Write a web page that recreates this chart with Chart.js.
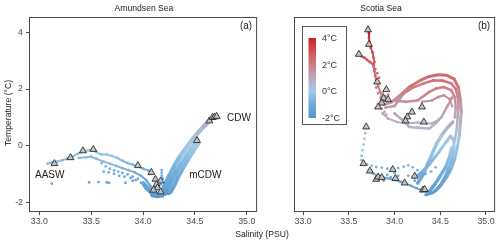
<!DOCTYPE html>
<html>
<head>
<meta charset="utf-8">
<script src="https://cdn.jsdelivr.net/npm/chart.js@4.4.1/dist/chart.umd.min.js"></script>
<style>
  body { margin: 0; background: #fff; }
  #wrap { position: relative; width: 500px; height: 243px; font-family: "Liberation Sans", Arial, sans-serif; color: #1a1a1a; }
  canvas { position: absolute; top: 0; }
  #left { left: 0; }
  #right { left: 262px; }
  .ttl { position: absolute; font-size: 8.6px; white-space: nowrap; transform: translate(-50%, -50%); }
  #ytitle { transform: translate(-50%, -50%) rotate(-90deg); }
</style>
</head>
<body>
<div id="wrap">
  <canvas id="left" width="262" height="243" style="width:262px;height:243px"></canvas>
  <canvas id="right" width="238" height="243" style="width:238px;height:243px"></canvas>
  <div class="ttl" style="left:144px;top:8px">Amundsen Sea</div>
  <div class="ttl" style="left:381px;top:8px">Scotia Sea</div>
  <div class="ttl" style="left:262px;top:234px">Salinity (PSU)</div>
  <div class="ttl" id="ytitle" style="left:7.5px;top:113px">Temperature (°C)</div>
</div>
<script>
// axis ticks
const salTicks = [33.0, 33.5, 34.0, 34.5, 35.0];
const tempTicks = [-2, 0, 2, 4];
const legendTicks = [4, 2, 0, -2];

// ---- Amundsen Sea: [salinity, temperature] ----
const asSurface = [[33.145, -0.62], [33.30, -0.41], [33.42, -0.17], [33.52, -0.12], [33.95, -0.69], [34.08, -0.93],
  [34.12, -1.17], [34.17, -1.23], [34.13, -1.35], [34.14, -1.47], [34.10, -1.55], [34.17, -1.61],
  [34.52, 0.19], [34.64, 0.88], [34.67, 1.00], [34.69, 1.02], [34.71, 1.04]];
const asUpper = [[33.08, -0.62], [33.12, -0.58], [33.17, -0.55], [33.22, -0.50], [33.27, -0.45], [33.32, -0.37],
  [33.37, -0.28], [33.42, -0.20], [33.47, -0.15], [33.51, -0.13], [33.55, -0.22], [33.60, -0.30], [33.65, -0.30],
  [33.70, -0.35], [33.75, -0.42], [33.80, -0.52], [33.85, -0.60], [33.90, -0.66], [33.95, -0.72], [34.00, -0.80],
  [34.05, -0.86], [34.09, -0.93]];
const asMiddle = [[33.38, -0.42], [33.45, -0.40], [33.50, -0.38], [33.55, -0.45], [33.62, -0.55], [33.68, -0.62],
  [33.74, -0.70], [33.80, -0.78], [33.86, -0.85], [33.92, -0.93], [33.98, -1.05], [34.03, -1.20], [34.07, -1.40],
  [34.10, -1.60], [34.13, -1.70]];
const asDiag = [[33.60, -0.60], [33.64, -0.72], [33.68, -0.80], [33.72, -0.86], [33.76, -0.90], [33.80, -0.95],
  [33.85, -1.00], [33.90, -1.08], [33.95, -1.15], [34.00, -1.28], [34.04, -1.45]];
const asDiagLow = [[33.62, -0.90], [33.67, -0.93], [33.72, -0.98], [33.77, -1.05], [33.82, -1.08], [33.88, -1.12],
  [33.93, -1.20], [33.98, -1.30]];
const asDots = [[33.12, -1.32], [33.48, -1.28], [33.57, -1.27], [33.65, -1.28], [33.67, -1.30], [33.83, -1.30],
  [33.90, -1.22], [34.18, -0.85], [34.18, -0.95], [34.18, -1.05], [34.19, -1.15], [34.18, -1.25], [34.17, -1.35]];
const asBand1 = [[34.00, -1.30], [34.05, -1.52], [34.10, -1.68], [34.15, -1.70], [34.19, -1.55], [34.22, -1.30],
  [34.26, -1.00], [34.31, -0.65], [34.36, -0.35], [34.41, -0.10], [34.46, 0.15], [34.52, 0.42], [34.57, 0.62],
  [34.62, 0.82], [34.67, 1.00], [34.70, 1.06]];
const asBand2 = [[34.08, -1.72], [34.14, -1.76], [34.20, -1.72], [34.24, -1.50], [34.28, -1.18], [34.33, -0.85],
  [34.38, -0.55], [34.43, -0.28], [34.48, -0.02], [34.53, 0.25]];
const asBand3 = [[34.20, -1.66], [34.26, -1.65], [34.30, -1.40], [34.34, -1.08], [34.39, -0.75], [34.44, -0.45],
  [34.49, -0.16], [34.54, 0.12]];
const asBand4 = [[34.02, -1.45], [34.07, -1.62], [34.12, -1.74], [34.17, -1.74], [34.22, -1.60], [34.26, -1.32],
  [34.30, -1.02], [34.35, -0.70]];

// ---- Scotia Sea: [salinity, temperature] ----
const ssSurface = [[33.71, 4.08], [33.72, 3.57], [33.61, 3.22], [33.81, 2.25], [33.91, 1.98], [33.88, 1.68],
  [33.86, 1.51], [33.93, 1.63], [33.82, 1.37], [34.30, 1.37], [34.19, 1.19], [34.14, 1.02], [34.12, 0.88],
  [34.32, 0.84], [33.69, 0.67], [33.66, -0.62], [33.73, -0.88], [33.80, -1.17], [33.82, -1.09], [33.86, -1.11],
  [33.98, -0.83], [34.01, -1.14], [34.11, -1.30], [34.22, -1.06], [34.31, -1.55], [34.33, -1.53]];
const ssRed = [[33.71, 4.10], [33.72, 3.95], [33.72, 3.80], [33.73, 3.62], [33.74, 3.45], [33.76, 3.28],
  [33.77, 3.10], [33.78, 2.95], [33.77, 2.80], [33.78, 2.62], [33.79, 2.45], [33.80, 2.28], [33.82, 2.10],
  [33.84, 1.92], [33.86, 1.75], [33.88, 1.58]];
const ssRedBranch = [[33.61, 3.22], [33.64, 3.15], [33.67, 3.10], [33.70, 3.02], [33.73, 2.95], [33.76, 2.88]];
const ssRedDots = [[33.79, 2.70], [33.81, 2.55], [33.83, 2.40], [33.80, 2.05], [33.82, 1.85], [33.85, 1.70],
  [33.87, 1.85], [33.90, 1.75], [33.93, 1.80], [33.84, 1.55], [33.83, 1.45], [33.86, 1.30], [33.89, 1.20],
  [33.91, 1.10]];
const ssLoopOuter = [[33.88, 1.45], [33.97, 1.54], [34.06, 1.78], [34.16, 2.07], [34.28, 2.30], [34.38, 2.44],
  [34.48, 2.50], [34.57, 2.48], [34.65, 2.36], [34.70, 2.05], [34.72, 1.60], [34.73, 1.20], [34.72, 0.80],
  [34.71, 0.40], [34.69, 0.00], [34.66, -0.45], [34.62, -0.80], [34.57, -1.10], [34.51, -1.38], [34.46, -1.55],
  [34.40, -1.66], [34.34, -1.72]];
const ssLoopMid = [[33.90, 1.35], [34.00, 1.40], [34.10, 1.84], [34.20, 2.05], [34.32, 2.20], [34.42, 2.30],
  [34.52, 2.30], [34.62, 2.20], [34.67, 2.00], [34.69, 1.75], [34.70, 1.40], [34.69, 1.00], [34.68, 0.60],
  [34.66, 0.20]];
const ssLoopInner = [[34.00, 1.60], [34.12, 1.55], [34.25, 1.60], [34.38, 1.90], [34.46, 2.02], [34.54, 2.07],
  [34.62, 1.96], [34.66, 1.70], [34.67, 1.35], [34.66, 1.00]];
const ssLoopCore = [[34.30, 1.55], [34.41, 1.60], [34.48, 1.72], [34.54, 1.78], [34.60, 1.65], [34.63, 1.40]];
const ssLoopLow = [[34.00, 1.14], [34.09, 0.90], [34.16, 0.67], [34.25, 0.64], [34.38, 0.61], [34.45, 0.80],
  [34.51, 1.00], [34.57, 1.35], [34.63, 1.70]];
const ssPurple = [[33.87, 1.14], [33.93, 0.96], [34.03, 0.84], [34.13, 0.79], [34.25, 0.82], [34.35, 0.80],
  [34.41, 0.79], [34.48, 0.92]];
const ssDescA = [[34.25, -1.05], [34.32, -0.85], [34.38, -0.65], [34.44, -0.40], [34.50, -0.15], [34.56, 0.12],
  [34.61, 0.35], [34.65, 0.20], [34.65, -0.10], [34.63, -0.45], [34.59, -0.80], [34.55, -1.10],
  [34.50, -1.38], [34.44, -1.58]];
const ssDescB = [[34.25, -1.32], [34.32, -0.97], [34.38, -0.50], [34.46, 0.08], [34.52, 0.40], [34.58, 0.65],
  [34.64, 0.85]];
const ssDescC = [[34.38, -1.60], [34.44, -1.35], [34.50, -1.05], [34.56, -0.74], [34.60, -0.40], [34.63, -0.04]];
const ssBotDrop = [[33.69, 0.62], [33.68, 0.45], [33.67, 0.25], [33.66, 0.05], [33.65, -0.15], [33.64, -0.35],
  [33.64, -0.50], [33.66, -0.62]];
const ssBotUpper = [[33.70, -0.65], [33.75, -0.70], [33.80, -0.74], [33.86, -0.76], [33.92, -0.80], [33.98, -0.80],
  [34.04, -0.78], [34.10, -0.73], [34.15, -0.68], [34.20, -0.75], [34.25, -0.85]];
const ssBotLower = [[33.72, -0.88], [33.77, -0.98], [33.82, -1.05], [33.88, -1.10], [33.94, -1.15], [34.00, -1.20],
  [34.06, -1.25], [34.12, -1.32], [34.18, -1.40], [34.24, -1.48], [34.30, -1.55], [34.36, -1.60], [34.42, -1.65]];
const ssBotMid = [[34.22, -1.12], [34.28, -1.05], [34.34, -0.98], [34.40, -0.90], [34.45, -0.75]];
const ssBotDots = [[33.88, -1.22], [33.92, -1.02], [33.96, -1.10], [34.04, -1.05], [34.15, -1.05], [34.22, -1.22],
  [34.00, -0.95]];

// colour scale for temperature
const tempStops = [[-2, [84, 148, 204]], [-1, [112, 172, 218]], [0, [160, 202, 229]], [1, [184, 170, 190]],
  [2, [206, 125, 130]], [3, [210, 82, 88]], [4, [204, 30, 40]]];
function tempColor(t) {
  if (t <= tempStops[0][0]) return 'rgb(' + tempStops[0][1].join(',') + ')';
  for (let i = 1; i < tempStops.length; i++) {
    if (t <= tempStops[i][0]) {
      const [t0, c0] = tempStops[i - 1], [t1, c1] = tempStops[i];
      const f = (t - t0) / (t1 - t0);
      return 'rgb(' + c0.map((c, k) => Math.round(c + (c1[k] - c) * f)).join(',') + ')';
    }
  }
  return 'rgb(' + tempStops[tempStops.length - 1][1].join(',') + ')';
}

const toXY = arr => arr.map(p => ({x: p[0], y: p[1]}));

function trace(arr, width) {
  return {
    data: toXY(arr),
    showLine: width > 0,
    borderWidth: width,
    pointRadius: 1.4,
    pointBorderWidth: 0,
    pointBackgroundColor: ctx => tempColor(ctx.raw ? ctx.raw.y : 0),
    segment: { borderColor: ctx => tempColor((ctx.p0.parsed.y + ctx.p1.parsed.y) / 2) },
    order: 1
  };
}

function surface(arr) {
  return {
    data: toXY(arr),
    showLine: false,
    pointStyle: 'triangle',
    pointRadius: 4,
    pointBackgroundColor: '#c4c4c4',
    pointBorderColor: '#2a2a2a',
    pointBorderWidth: 0.9,
    order: 0
  };
}

const panelBox = {
  id: 'panelBox',
  afterDraw(chart) {
    const {ctx, chartArea: a} = chart;
    ctx.save();
    ctx.strokeStyle = '#4a4a4a';
    ctx.lineWidth = 1;
    ctx.strokeRect(a.left + 0.5, a.top + 0.5, a.right - a.left - 1, a.bottom - a.top - 1);
    ctx.restore();
  }
};

const textLabels = {
  id: 'textLabels',
  afterDatasetsDraw(chart, args, opts) {
    const {ctx, chartArea: a, scales} = chart;
    ctx.save();
    ctx.fillStyle = '#1a1a1a';
    ctx.font = '10px "Liberation Sans", Arial, sans-serif';
    ctx.textBaseline = 'middle';
    ctx.textAlign = 'right';
    ctx.fillText(opts.panel, a.right - 5, a.top + 9);
    (opts.items || []).forEach(it => {
      ctx.textAlign = it.align;
      ctx.fillText(it.text, scales.x.getPixelForValue(it.s), scales.y.getPixelForValue(it.t));
    });
    ctx.restore();
  }
};

const colourBar = {
  id: 'colourBar',
  afterDraw(chart, args, opts) {
    if (!opts.show) return;
    const {ctx, chartArea: a} = chart;
    const bx = a.left + 8, by = a.top + 9;
    const barTop = by + 12, barBot = by + 92;
    ctx.save();
    ctx.strokeStyle = '#555';
    ctx.lineWidth = 1;
    ctx.strokeRect(bx + 0.5, by + 0.5, 44, 98);
    const g = ctx.createLinearGradient(0, barBot, 0, barTop);
    tempStops.forEach(s => g.addColorStop((s[0] + 2) / 6, tempColor(s[0])));
    ctx.fillStyle = g;
    ctx.fillRect(bx + 6.5, barTop, 7.5, barBot - barTop);
    ctx.fillStyle = '#333';
    ctx.font = '9px "Liberation Sans", Arial, sans-serif';
    ctx.textAlign = 'left';
    ctx.textBaseline = 'middle';
    legendTicks.forEach(t => {
      const y = barBot - (t + 2) / 6 * (barBot - barTop);
      ctx.fillText(t + '°C', bx + 20, y + 0.5);
    });
    ctx.restore();
  }
};

function makeOptions(showY, panel, items, bar) {
  return {
    responsive: false,
    animation: false,
    events: [],
    layout: { padding: { top: 17, right: 3, left: showY ? 0 : 3, bottom: 0 } },
    plugins: {
      legend: { display: false },
      tooltip: { enabled: false },
      textLabels: { panel: panel, items: items },
      colourBar: { show: bar }
    },
    scales: {
      x: {
        type: 'linear', min: 32.9, max: 35.1,
        afterBuildTicks: s => { s.ticks = salTicks.map(v => ({value: v})); },
        afterFit: s => { s.height = 31; },
        border: { display: false },
        grid: { drawOnChartArea: false, drawTicks: true, tickLength: 3, color: '#4a4a4a', tickWidth: 1 },
        ticks: { color: '#4d4d4d', padding: 1, font: { size: 8.8, family: '"Liberation Sans", Arial, sans-serif' },
                 callback: v => v.toFixed(1), maxRotation: 0 }
      },
      y: {
        type: 'linear', min: -2.32, max: 4.53,
        display: showY,
        afterBuildTicks: s => { s.ticks = tempTicks.map(v => ({value: v})); },
        afterFit: s => { s.width = 29; },
        border: { display: false },
        grid: { drawOnChartArea: false, drawTicks: true, tickLength: 3, color: '#4a4a4a', tickWidth: 1 },
        ticks: { color: '#4d4d4d', padding: 3, font: { size: 8.8, family: '"Liberation Sans", Arial, sans-serif' } }
      }
    }
  };
}

new Chart(document.getElementById('left'), {
  type: 'scatter',
  data: {
    datasets: [
      surface(asSurface),
      trace(asUpper, 2), trace(asMiddle, 2), trace(asDiag, 0), trace(asDiagLow, 0), trace(asDots, 0),
      trace(asBand1, 4.5), trace(asBand2, 4.5), trace(asBand3, 4), trace(asBand4, 3.5)
    ]
  },
  options: makeOptions(true, '(a)', [
    { text: 'AASW', s: 33.10, t: -1.03, align: 'center' },
    { text: 'mCDW', s: 34.60, t: -1.03, align: 'center' },
    { text: 'CDW', s: 34.81, t: 0.97, align: 'left' }
  ], false),
  plugins: [panelBox, textLabels, colourBar]
});

new Chart(document.getElementById('right'), {
  type: 'scatter',
  data: {
    datasets: [
      surface(ssSurface),
      trace(ssRed, 1.8), trace(ssRedBranch, 1.8), trace(ssRedDots, 0),
      trace(ssLoopOuter, 3), trace(ssLoopMid, 2.5), trace(ssLoopInner, 2.5), trace(ssLoopCore, 2),
      trace(ssLoopLow, 2.5), trace(ssPurple, 2),
      trace(ssDescA, 3), trace(ssDescB, 3.5), trace(ssDescC, 3.5),
      trace(ssBotDrop, 0), trace(ssBotUpper, 0), trace(ssBotLower, 2), trace(ssBotMid, 0), trace(ssBotDots, 0)
    ]
  },
  options: makeOptions(false, '(b)', [], true),
  plugins: [panelBox, textLabels, colourBar]
});
</script>
</body>
</html>
